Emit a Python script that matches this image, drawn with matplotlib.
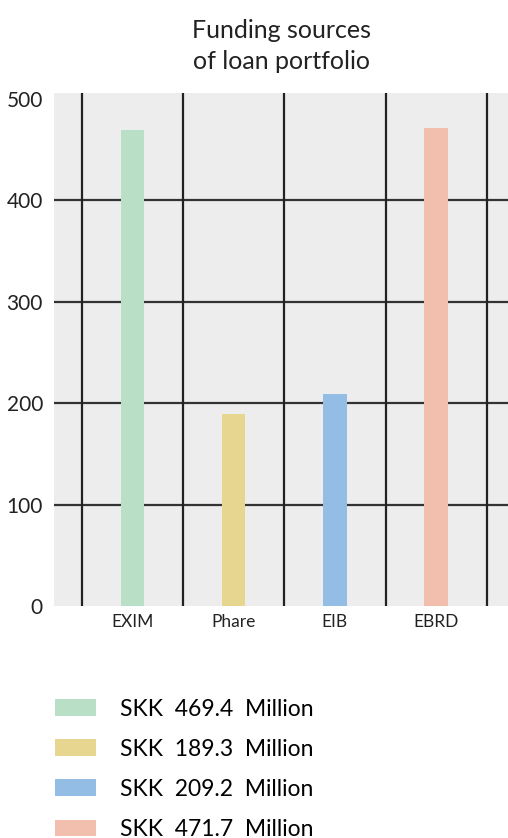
import numpy as np
import matplotlib
matplotlib.use("Agg")
import matplotlib.pyplot as plt

plt.rcParams['font.family'] = ['Lato', 'DejaVu Sans']

# data
sources = ["EXIM", "Phare", "EIB", "EBRD"]
amounts = [469.4, 189.3, 209.2, 471.7]
legend_labels = ["SKK  469.4  Million", "SKK  189.3  Million",
                 "SKK  209.2  Million", "SKK  471.7  Million"]
colors = ["#b9e0c6", "#e6d690", "#94bde6", "#f2bfae"]
yticks = [0, 100, 200, 300, 400, 500]

fig = plt.figure(figsize=(5.08, 8.38), dpi=100)
ax = fig.add_axes([0.1063, 0.2768, 0.8937, 0.6122])
ax.set_facecolor("#ededed")

x = np.arange(len(sources))
bars = ax.bar(x, amounts, width=0.23, color=colors, zorder=3)

# grid: horizontal at ticks, vertical between categories
for yv in yticks[1:-1]:
    ax.axhline(yv, color="#333333", lw=1.6, zorder=2)
for xv in np.arange(-0.5, len(sources), 1.0):
    ax.axvline(xv, color="#222222", lw=1.6, zorder=2)

ax.set_xlim(-0.775, 3.71)
ax.set_ylim(0, 506)
ax.set_xticks(x)
ax.set_xticklabels(sources, fontsize=12.5, color="#222222")
ax.set_yticks(yticks)
ax.set_yticklabels([str(v) for v in yticks], fontsize=15, color="#222222")
ax.tick_params(length=0, pad=8)
ax.tick_params(axis="x", pad=6)
for s in ax.spines.values():
    s.set_visible(False)

ax.set_title("Funding sources\nof loan portfolio", fontsize=18, color="#222222",
             pad=17, linespacing=1.44)

fig.legend(bars, legend_labels, loc="upper left", bbox_to_anchor=(0.09, 0.177),
           frameon=False, fontsize=16.5, handlelength=1.8, handleheight=0.75,
           handletextpad=1.05, labelspacing=0.83, borderaxespad=0)

fig.savefig("out.png", dpi=100)
